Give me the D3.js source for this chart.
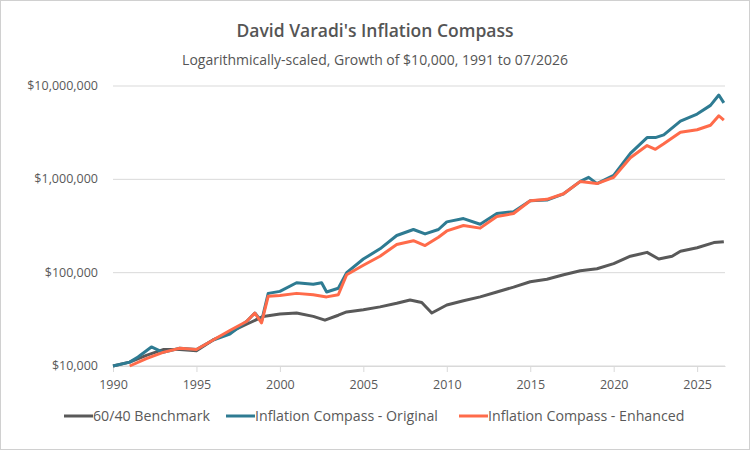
<!DOCTYPE html>
<html><head><meta charset="utf-8">
<script src="https://cdn.jsdelivr.net/npm/d3@7"></script>
<style>body{margin:0;background:#fff}svg{font-family:"Open Sans",sans-serif}</style>
</head><body><svg id="c" width="750" height="450"></svg>
<script>
const benchYears = [1990,1991,1992,1993,1994,1995,1996,1997,1998,1999,2000,2001,2002,2002.7,2003.5,2004,2005,2006,2007,2007.8,2008.5,2009.1,2010,2011,2012,2013,2014,2015,2016,2017,2018,2019,2020,2021,2022,2022.7,2023.5,2024,2025,2026,2026.6];
const benchValues = [10000,11000,13000,15000,15000,14600,19000,23000,28000,34000,36000,37000,34000,31000,35000,38000,40000,43000,47000,51000,48000,37000,45000,50000,55000,62000,70000,80000,85000,95000,105000,110000,125000,150000,165000,140000,150000,170000,185000,210000,215000];
const origYears = [1990,1991,1991.5,1992.3,1993,1994,1995,1996,1997,1998,1998.5,1998.9,1999.3,2000,2001,2002,2002.5,2002.8,2003.5,2004,2005,2006,2007,2008,2008.7,2009.5,2010,2011,2012,2013,2014,2015,2016,2017,2018,2018.5,2019,2020,2021,2022,2022.5,2023,2024,2025,2025.8,2026.3,2026.6];
const origValues = [10000,11000,12500,16000,14000,15500,15000,19000,22000,30000,37000,30000,60000,63000,78000,75000,78000,62000,68000,100000,140000,180000,250000,290000,260000,290000,350000,380000,330000,430000,450000,590000,600000,700000,950000,1050000,900000,1100000,1900000,2800000,2800000,3000000,4200000,5000000,6200000,8000000,6600000];
const enhYears = [1991,1992,1993,1994,1995,1996,1997,1998,1998.5,1998.9,1999.3,2000,2001,2002,2002.8,2003.5,2004,2005,2006,2007,2008,2008.7,2009.5,2010,2011,2012,2013,2014,2015,2016,2017,2018,2019,2020,2021,2022,2022.5,2023,2024,2025,2025.8,2026.3,2026.6];
const enhValues = [10000,12000,14000,15500,15000,19000,24000,30000,37000,29000,56000,57000,60000,58000,55000,58000,95000,120000,150000,200000,220000,195000,240000,280000,320000,300000,400000,430000,590000,610000,700000,950000,900000,1050000,1700000,2300000,2100000,2400000,3200000,3400000,3800000,4800000,4300000];
const seriesNames = ["60/40 Benchmark","Inflation Compass - Original","Inflation Compass - Enhanced"];
const seriesColors = ["#595959","#2e7b92","#ff6b4a"];
const xTicks = [1990,1995,2000,2005,2010,2015,2020,2025];
const yTicks = [10000,100000,1000000,10000000];

const svg = d3.select("#c");
svg.append("rect").attr("x",0.5).attr("y",0.5).attr("width",749).attr("height",449).attr("fill","#fff").attr("stroke","#d0d0d0");
const x = d3.scaleLinear().domain([1990,2026.67]).range([113,725]);
const y = d3.scaleLog().domain([10000,10000000]).range([366,86]);

svg.append("text").attr("x",375).attr("y",37).attr("text-anchor","middle").attr("font-size",17.5).attr("font-weight",600).attr("fill","#555").text("David Varadi's Inflation Compass");
svg.append("text").attr("x",375).attr("y",65).attr("text-anchor","middle").attr("font-size",14).attr("fill","#555").text("Logarithmically-scaled, Growth of $10,000, 1991 to 07/2026");

svg.append("g").selectAll("line").data(yTicks).join("line")
  .attr("x1",113).attr("x2",725).attr("y1",d=>y(d)).attr("y2",d=>y(d)).attr("stroke","#d9d9d9");
svg.append("g").selectAll("text").data(yTicks).join("text")
  .attr("x",98).attr("y",d=>y(d)+4).attr("text-anchor","end").attr("font-size",12.5).attr("fill","#595959")
  .text(d=>d3.format("$,")(d));

const xa = svg.append("g").attr("transform","translate(0,366)")
  .call(d3.axisBottom(x).tickValues(xTicks).tickFormat(d3.format("d")).tickSize(6).tickSizeOuter(0));
xa.select(".domain").attr("stroke","#d9d9d9");
xa.selectAll(".tick line").attr("stroke","#d9d9d9");
xa.selectAll("text").attr("font-size",12.5).attr("fill","#595959").attr("font-family","Open Sans").attr("dy","1.1em");

const line = d3.line().x(d=>x(d[0])).y(d=>y(d[1]));
const sets = [[benchYears,benchValues],[origYears,origValues],[enhYears,enhValues]];
[0,1,2].forEach(i=>{
  const pts = sets[i][0].map((yr,j)=>[yr,sets[i][1][j]]);
  svg.append("path").datum(pts).attr("d",line).attr("fill","none").attr("stroke",seriesColors[i]).attr("stroke-width",3).attr("stroke-linejoin","round");
});

const lx = [64,226,459];
const lg = svg.append("g");
seriesNames.forEach((n,i)=>{
  lg.append("line").attr("x1",lx[i]).attr("x2",lx[i]+29).attr("y1",416).attr("y2",416).attr("stroke",seriesColors[i]).attr("stroke-width",3);
  lg.append("text").attr("x",lx[i]+29).attr("y",421).attr("font-size",14.2).attr("fill","#595959").text(n);
});
</script></body></html>
